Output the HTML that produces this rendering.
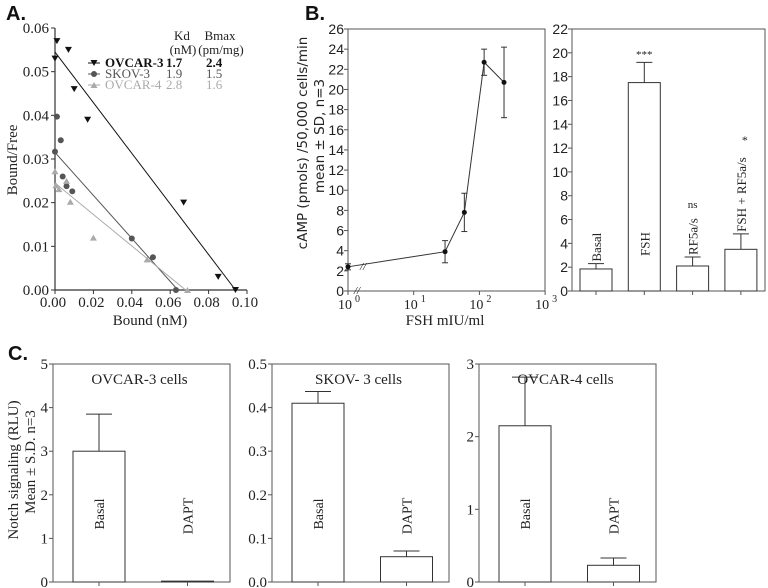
<!DOCTYPE html>
<html><head><meta charset="utf-8"><style>
body{margin:0;background:#fff;}
svg{display:block;font-family:"Liberation Serif",serif;}
</style></head><body>
<svg id="s" width="768" height="588" viewBox="0 0 768 588" xmlns="http://www.w3.org/2000/svg"></svg>
<script>
// ---- Panel A data ----
const aSeries = ["OVCAR-3","SKOV-3","OVCAR-4"];
const aKd = ["1.7","1.9","2.8"];
const aBmax = ["2.4","1.5","1.6"];
const aX0 = [0.0,0.001,0.007,0.010,0.017,0.067,0.085,0.094];
const aY0 = [0.053,0.057,0.055,0.046,0.039,0.020,0.003,0.0];
const aX1 = [0.0,0.001,0.003,0.004,0.006,0.009,0.040,0.051,0.063];
const aY1 = [0.0317,0.0397,0.0343,0.026,0.0238,0.0226,0.0118,0.0075,0.0];
const aX2 = [0.0,0.0005,0.002,0.006,0.008,0.020,0.048,0.069];
const aY2 = [0.0272,0.0240,0.0231,0.025,0.0202,0.012,0.007,0.0];
const aFitStart = [0.0545,0.0315,0.0245];
const aFitEnd = [0.094,0.064,0.068];
const aYTicks = ["0.00","0.01","0.02","0.03","0.04","0.05","0.06"];
const aXTicks = ["0.00","0.02","0.04","0.06","0.08","0.10"];
// ---- Panel B line data ----
const bDose = [1,30,59,118,237];
const bMean = [2.4,3.9,7.8,22.7,20.7];
const bSD = [0.3,1.1,1.9,1.3,3.5];
const bYTicks = [0,2,4,6,8,10,12,14,16,18,20,22,24,26];
// ---- Panel B bar data ----
const bbCats = ["Basal","FSH","RF5a/s","FSH + RF5a/s"];
const bbMean = [1.85,17.5,2.1,3.5];
const bbSD = [0.45,1.7,0.75,1.3];
const bbYTicks = [0,2,4,6,8,10,12,14,16,18,20,22];
// ---- Panel C data ----
const cTitles = ["OVCAR-3 cells","SKOV- 3 cells","OVCAR-4 cells"];
const cCats = ["Basal","DAPT"];
const cMean0 = [3.0,0.02];
const cSD0 = [0.85,0.0];
const cMean1 = [0.41,0.058];
const cSD1 = [0.027,0.013];
const cMean2 = [2.15,0.23];
const cSD2 = [0.67,0.1];
const cTicks0 = ["0","1","2","3","4","5"];
const cTicks1 = ["0.0","0.1","0.2","0.3","0.4","0.5"];
const cTicks2 = ["0","1","2","3"];

const S=document.getElementById('s');
const NS="http://www.w3.org/2000/svg";
function el(tag,attrs,parent){const e=document.createElementNS(NS,tag);for(const k in attrs)e.setAttribute(k,attrs[k]);(parent||S).appendChild(e);return e;}
function line(x1,y1,x2,y2,c,w,p){return el('line',{x1,y1,x2,y2,stroke:c||'#333','stroke-width':w||1},p);}
function txt(x,y,s,size,opts,p){const t=el('text',Object.assign({x,y,'font-size':size,fill:'#222'},opts||{}),p);t.textContent=s;return t;}
function grp(name){const g=el('g',{});return g;}

// ================= Panel A =================
{
const g=grp('panel-a-scatchard');
const X=v=>55+v/0.1*192, Y=v=>290-v/0.06*262;
const lab=txt(6,20,"A.",20,{'font-family':'Liberation Sans,sans-serif','font-weight':'bold',fill:'#111'},g);


line(55,28,55,290,'#333',1.2,g);line(55,290,247,290,'#333',1.2,g);
aYTicks.forEach(s=>{const y=Y(parseFloat(s));line(51,y,55,y,'#333',1,g);txt(49,y+5,s,15,{'text-anchor':'end'},g);});
aXTicks.forEach(s=>{const x=X(parseFloat(s));line(x,290,x,294,'#333',1,g);txt(x-2,307,s,15,{'text-anchor':'middle'},g);});
const xt=txt(150,325,"Bound (nM)",15,{'text-anchor':'middle'},g);


const yt=txt(0,0,"Bound/Free",15,{'text-anchor':'middle',transform:'translate(17,160) rotate(-90)'},g);


const cols=['#111','#555','#aaa'];
const xs=[aX0,aX1,aX2], ys=[aY0,aY1,aY2];
function marker(k,x,y,p){
  if(k==0) return el('path',{d:`M${x-3.5},${y-3} L${x+3.5},${y-3} L${x},${y+3} Z`,fill:cols[0]},p);
  if(k==1) return el('circle',{cx:x,cy:y,r:3,fill:cols[1]},p);
  return el('path',{d:`M${x-3.5},${y+3} L${x+3.5},${y+3} L${x},${y-3} Z`,fill:cols[2]},p);
}
for(let k=0;k<3;k++){
  const sg=el('g',{},g);
  
  
  line(X(0),Y(aFitStart[k]),X(aFitEnd[k]),Y(0),cols[k],1,sg);
  xs[k].forEach((v,i)=>marker(k,X(v),Y(ys[k][i]),sg));
}
const lg=el('g',{},g);


txt(182,40,"Kd",13,{'text-anchor':'middle'},lg);
txt(183,54,"(nM)",13,{'text-anchor':'middle'},lg);
txt(220,40,"Bmax",13,{'text-anchor':'middle'},lg);
txt(221,54,"(pm/mg)",13,{'text-anchor':'middle'},lg);
for(let k=0;k<3;k++){
  const y=63+k*11;
  line(88,y,100,y,cols[k],1,lg);marker(k,94,y,lg);
  txt(105,y+4,aSeries[k],13,{fill:cols[k],'font-weight':k==0?'bold':'normal'},lg);
  txt(166,y+4,aKd[k],13,{fill:cols[k],'font-weight':k==0?'bold':'normal'},lg);
  txt(206,y+4,aBmax[k],13,{fill:cols[k],'font-weight':k==0?'bold':'normal'},lg);
}
}

// ================= Panel B line =================
{
const g=grp('panel-b-dose-response');
const X=v=>348+Math.log10(v)*65.7, Y=v=>291-v/26*262;
const lab=txt(305,20,"B.",20,{'font-family':'Liberation Sans,sans-serif','font-weight':'bold',fill:'#111'},g);


el('rect',{x:348,y:29,width:197,height:262,fill:'none',stroke:'#555','stroke-width':1},g);
bYTicks.forEach(v=>{const y=Y(v);line(344,y,348,y,'#555',1,g);txt(344,y+5,String(v),14,{'text-anchor':'end','font-family':'Liberation Sans,sans-serif'},g);});
[0,1,2,3].forEach(d=>{const x=348+d*65.7;line(x,291,x,295,'#555',1,g);txt(x-3,309,"10",14,{'text-anchor':'middle'},g);txt(x+7,302,String(d),10,{},g);});
const xt=txt(445,325,"FSH mIU/ml",15,{'text-anchor':'middle'},g);


const yt=txt(0,0,"cAMP (pmols) /50,000 cells/min",13.5,{'text-anchor':'middle','font-family':'DejaVu Sans,sans-serif',transform:'translate(307,143) rotate(-90)'},g);


txt(0,0,"mean ± SD, n=3",13.5,{'text-anchor':'middle','font-family':'DejaVu Sans,sans-serif',transform:'translate(324,136) rotate(-90)'},g);
el('polyline',{points:bDose.map((d,i)=>X(d)+','+Y(bMean[i])).join(' '),fill:'none',stroke:'#333','stroke-width':1},g);
bDose.forEach((d,i)=>{const x=X(d);const p=el('g',{},g);
  
  
  line(x,Y(bMean[i]-bSD[i]),x,Y(bMean[i]+bSD[i]),'#333',1,p);
  line(x-3,Y(bMean[i]-bSD[i]),x+3,Y(bMean[i]-bSD[i]),'#333',1,p);
  line(x-3,Y(bMean[i]+bSD[i]),x+3,Y(bMean[i]+bSD[i]),'#333',1,p);
  el('circle',{cx:x,cy:Y(bMean[i]),r:2.5,fill:'#111'},p);});
txt(360,270,"//",11,{'font-style':'italic'},g);
txt(354,294,"//",11,{'font-style':'italic'},g);
}

// ================= Panel B bars =================
{
const g=grp('panel-b-bar-chart');
const Y=v=>291-v/22*262;
el('rect',{x:572,y:29,width:193,height:262,fill:'none',stroke:'#555','stroke-width':1},g);
bbYTicks.forEach(v=>{const y=Y(v);line(568,y,572,y,'#555',1,g);txt(568,y+5,String(v),14,{'text-anchor':'end','font-family':'Liberation Sans,sans-serif'},g);});
const sig=["","***","ns","*"];
bbCats.forEach((c,i)=>{const x0=580+i*48.3, w=32, cx=x0+w/2;
  const bg=el('g',{},g);
  
  
  const top=Y(bbMean[i]), et=Y(bbMean[i]+bbSD[i]);
  line(cx,top,cx,et,'#333',1,bg);line(cx-8,et,cx+8,et,'#333',1,bg);
  el('rect',{x:x0,y:top,width:w,height:291-top,fill:'#fff',stroke:'#333','stroke-width':1},bg);
  line(cx,291,cx,295,'#555',1,bg);
  txt(0,0,c,13,{'text-anchor':'start',transform:`translate(${cx+5},${i==1?256:et-2}) rotate(-90)`},bg);
  if(sig[i]){
    if(i==3) txt(cx+4,et-90,"*",12,{'text-anchor':'middle'},bg);
    else txt(cx,i==1?58:208,sig[i],11,{'text-anchor':'middle'},bg);}
});
}

// ================= Panel C =================
{
const lab=txt(8,360,"C.",20,{'font-family':'Liberation Sans,sans-serif','font-weight':'bold',fill:'#111'});


const yt=txt(0,0,"Notch signaling (RLU)",15,{'text-anchor':'middle',transform:'translate(18,470) rotate(-90)'});


txt(0,0,"Mean ± S.D. n=3",15,{'text-anchor':'middle',transform:'translate(35,462) rotate(-90)'});
const means=[cMean0,cMean1,cMean2], sds=[cSD0,cSD1,cSD2], ticks=[cTicks0,cTicks1,cTicks2];
const lefts=[53,272,479];
for(let p=0;p<3;p++){
  const g=grp('panel-c-chart-'+(p+1));
  const L=lefts[p], W=177, T=364, B=582;
  const mx=parseFloat(ticks[p][ticks[p].length-1]);
  const Y=v=>B-v/mx*(B-T);
  el('rect',{x:L,y:T,width:W,height:B-T,fill:'none',stroke:'#555','stroke-width':1},g);
  ticks[p].forEach(s=>{const y=Y(parseFloat(s));line(L-4,y,L,y,'#555',1,g);txt(L-5,y+5,s,15,{'text-anchor':'end'},g);});
  const tt=txt(L+W/2-2,T+20,cTitles[p],15,{'text-anchor':'middle'},g);
  
  
  cCats.forEach((c,i)=>{const x0=L+20+i*88.5, w=52, cx=x0+w/2;
    const bg=el('g',{},g);
    
    
    const top=Y(means[p][i]), et=Y(means[p][i]+sds[p][i]);
    if(sds[p][i]>0){line(cx,top,cx,et,'#333',1,bg);line(cx-13,et,cx+13,et,'#333',1,bg);}
    el('rect',{x:x0,y:top,width:w,height:B-top,fill:'#fff',stroke:'#333','stroke-width':1},bg);
    line(cx,B,cx,B+4,'#555',1,bg);
    txt(0,0,c,14,{'text-anchor':'middle',transform:`translate(${cx+5},${i==0?514:516}) rotate(-90)`},bg);
  });
}
}
</script>
</body></html>
